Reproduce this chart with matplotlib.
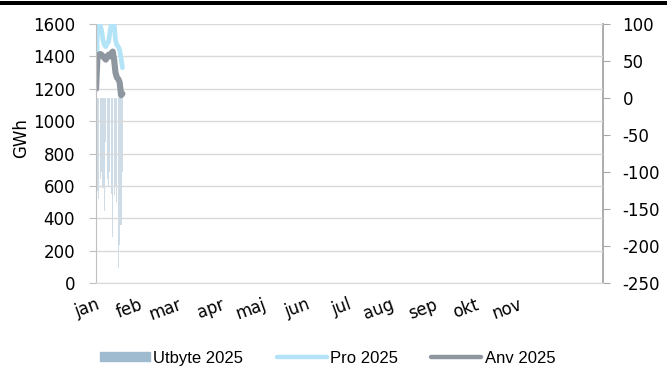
import pandas as pd
import numpy as np
import matplotlib
matplotlib.use('Agg')
import matplotlib.pyplot as plt
from matplotlib.patches import Rectangle, Patch
from matplotlib.lines import Line2D

plt.rcParams['font.family'] = ['Liberation Sans', 'DejaVu Sans']
plt.rcParams['font.size'] = 12
plt.rcParams['axes.unicode_minus'] = False

# daglig data, januari 2025
dagar = pd.date_range('2025-01-01', periods=20, freq='D')
pro_2025 = [1200, 1580, 1600, 1590, 1560, 1500, 1470, 1460, 1480, 1490,
            1550, 1600, 1600, 1600, 1500, 1470, 1460, 1440, 1390, 1330]
anv_2025 = [1200, 1390, 1410, 1415, 1410, 1400, 1390, 1380, 1400, 1410,
            1400, 1420, 1430, 1380, 1300, 1270, 1260, 1240, 1160, 1170]
utbyte_2025 = [-130, -125, -136, -110, -100, -121, -153, -60, -110, -120,
               -100, -130, -188, -131, -120, -140, -230, -199, -172, -100]

manader = ['jan', 'feb', 'mar', 'apr', 'maj', 'jun', 'jul', 'aug', 'sep', 'okt', 'nov']

fig = plt.figure(figsize=(6.67, 3.70), dpi=100)
ax = fig.add_axes([0.144, 0.235, 0.760, 0.700])
ax2 = ax.twinx()

# utbyte som staplar mot höger axel
ax2.bar(dagar, utbyte_2025, width=0.8, color='#9fbbd0', alpha=0.5, linewidth=0)
ax2.set_ylim(-250, 100)
ax2.set_yticks(np.arange(-250, 101, 50))

ax.plot(dagar, pro_2025, color='#b3e3f7', lw=3.4, solid_capstyle='round', solid_joinstyle='round')
ax.plot(dagar, anv_2025, color='#8e979f', lw=4.4, solid_capstyle='round', solid_joinstyle='round')
ax.set_ylim(0, 1600)
ax.set_yticks(np.arange(0, 1601, 200))
ax.set_ylabel('GWh', fontsize=12, family='DejaVu Sans')
ax.yaxis.set_label_coords(-0.13, 0.56)

ax.set_zorder(ax2.get_zorder() + 1)
ax.patch.set_visible(False)
ax.grid(axis='y', color='#d9d9d9', lw=1)
ax.set_axisbelow(True)

ax.set_xlim(pd.Timestamp('2025-01-01'), pd.Timestamp('2026-01-01'))
ax.set_xticks([pd.Timestamp(2025, m, 1) for m in range(1, 12)])
ax.set_xticklabels(manader, rotation=20, ha='right', va='top', rotation_mode='anchor',
                   family='DejaVu Sans', fontsize=12)
ax.tick_params(axis='x', length=0, pad=9)
ax.tick_params(axis='y', length=5, color='#bfbfbf', pad=10, labelsize=12)
ax2.tick_params(axis='y', length=5, color='#a6a6a6', pad=9, labelsize=12)
for lbl in ax.get_yticklabels() + ax2.get_yticklabels():
    lbl.set_family('DejaVu Sans')

for a in (ax, ax2):
    for s in a.spines.values():
        s.set_visible(False)
ax.spines['left'].set_visible(True)
ax.spines['left'].set_color('#bfbfbf')
ax.spines['bottom'].set_visible(True)
ax.spines['bottom'].set_color('#d9d9d9')
ax2.spines['right'].set_visible(True)
ax2.spines['right'].set_color('#a6a6a6')
ax2.spines['right'].set_linewidth(1.3)

handles = [Patch(color='#9fbbd0'),
           Line2D([], [], color='#b3e3f7', lw=3.2, solid_capstyle='round'),
           Line2D([], [], color='#8e979f', lw=3.2, solid_capstyle='round')]
fig.legend(handles, ['Utbyte 2025', 'Pro 2025', 'Anv 2025'], loc='center',
           bbox_to_anchor=(0.491, 0.032), ncol=3, frameon=False,
           handlelength=3.0, handleheight=0.5, handletextpad=0.2, columnspacing=2.0)

# svart linje överst
fig.add_artist(Rectangle((0, 1 - 5 / 370), 1, 4 / 370, transform=fig.transFigure,
                         color='black', lw=0))

fig.savefig('out.png', dpi=100)
